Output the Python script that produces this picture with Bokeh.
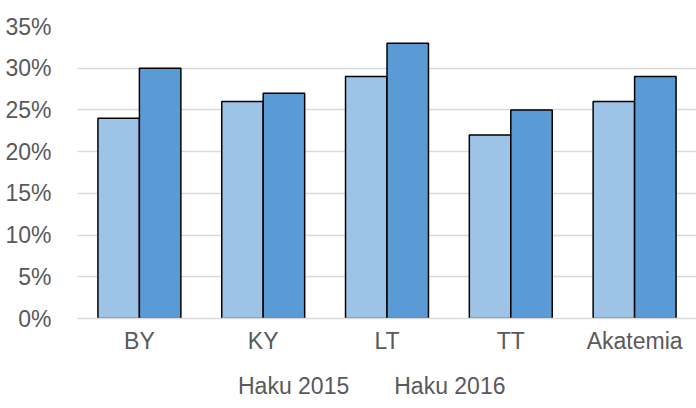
from bokeh.plotting import figure
from bokeh.layouts import column
from bokeh.models import FactorRange, Range1d, NumeralTickFormatter, Legend, LegendItem, ColumnDataSource
from bokeh.transform import dodge
from bokeh.embed import file_html
from bokeh.resources import INLINE

categories = ["BY", "KY", "LT", "TT", "Akatemia"]
haku_2015 = [0.24, 0.26, 0.29, 0.22, 0.26]
haku_2016 = [0.30, 0.27, 0.33, 0.25, 0.29]
series_names = ["Haku 2015", "Haku 2016"]
y_ticks = [0, 0.05, 0.10, 0.15, 0.20, 0.25, 0.30, 0.35]

FONT = "Liberation Sans"
GRAY = "#595959"
GRID = "#d9d9d9"
C15 = "#9DC3E6"
C16 = "#5B9BD5"

src = ColumnDataSource(dict(cat=categories, a=haku_2015, b=haku_2016))

p = figure(width=696, height=356, x_range=FactorRange(*categories), y_range=Range1d(0, 0.35),
           output_backend="svg", toolbar_location=None,
           min_border_left=77, min_border_right=0, min_border_top=26, min_border_bottom=34)
p.outline_line_color = None
p.background_fill_color = None
p.border_fill_color = "white"

p.vbar(x=dodge("cat", -0.1675, range=p.x_range), top="a", width=0.335, source=src,
       fill_color=C15, line_color="black", line_width=1.5)
p.vbar(x=dodge("cat", 0.1675, range=p.x_range), top="b", width=0.335, source=src,
       fill_color=C16, line_color="black", line_width=1.5)

p.xgrid.grid_line_color = None
p.ygrid.grid_line_color = GRID
p.ygrid.grid_line_width = 1.5
p.yaxis.ticker = y_ticks
p.yaxis.formatter = NumeralTickFormatter(format="0%")
p.yaxis.axis_line_color = None
p.yaxis.major_tick_line_color = None
p.yaxis.minor_tick_line_color = None
p.yaxis.major_label_standoff = 20

p.xaxis.axis_line_color = GRID
p.xaxis.axis_line_width = 1.5
p.xaxis.major_tick_line_color = None
p.xaxis.minor_tick_line_color = None
p.xaxis.major_label_standoff = 3

for ax in (p.xaxis, p.yaxis):
    ax.major_label_text_font = FONT
    ax.major_label_text_font_size = "23px"
    ax.major_label_text_color = GRAY

# legend strip below the chart: empty renderers only supply the legend swatches
pl = figure(width=696, height=52, x_range=Range1d(0, 1), y_range=Range1d(0, 1),
            output_backend="svg", toolbar_location=None, x_axis_type=None, y_axis_type=None,
            min_border_left=0, min_border_right=0, min_border_top=0, min_border_bottom=0)
pl.outline_line_color = None
pl.grid.grid_line_color = None
pl.background_fill_color = None
pl.border_fill_color = "white"
empty = ColumnDataSource(dict(x=[], top=[]))
l1 = pl.vbar(x="x", top="top", width=0.1, source=empty,
             fill_color=C15, line_color="black", line_width=1.5)
l2 = pl.vbar(x="x", top="top", width=0.1, source=empty,
             fill_color=C16, line_color="black", line_width=1.5)

legend = Legend(items=[LegendItem(label=series_names[0], renderers=[l1]),
                       LegendItem(label=series_names[1], renderers=[l2])],
                orientation="horizontal", location=(144, 8))
legend.label_text_font = FONT
legend.label_text_font_size = "23px"
legend.label_text_color = GRAY
legend.glyph_width = 14
legend.glyph_height = 14
legend.label_standoff = 3
legend.spacing = 28
legend.border_line_color = None
legend.background_fill_alpha = 0
legend.padding = 0
legend.margin = 0
pl.add_layout(legend, "center")

layout = column(p, pl, spacing=0)
open("out.html", "w").write(file_html(layout, INLINE))
